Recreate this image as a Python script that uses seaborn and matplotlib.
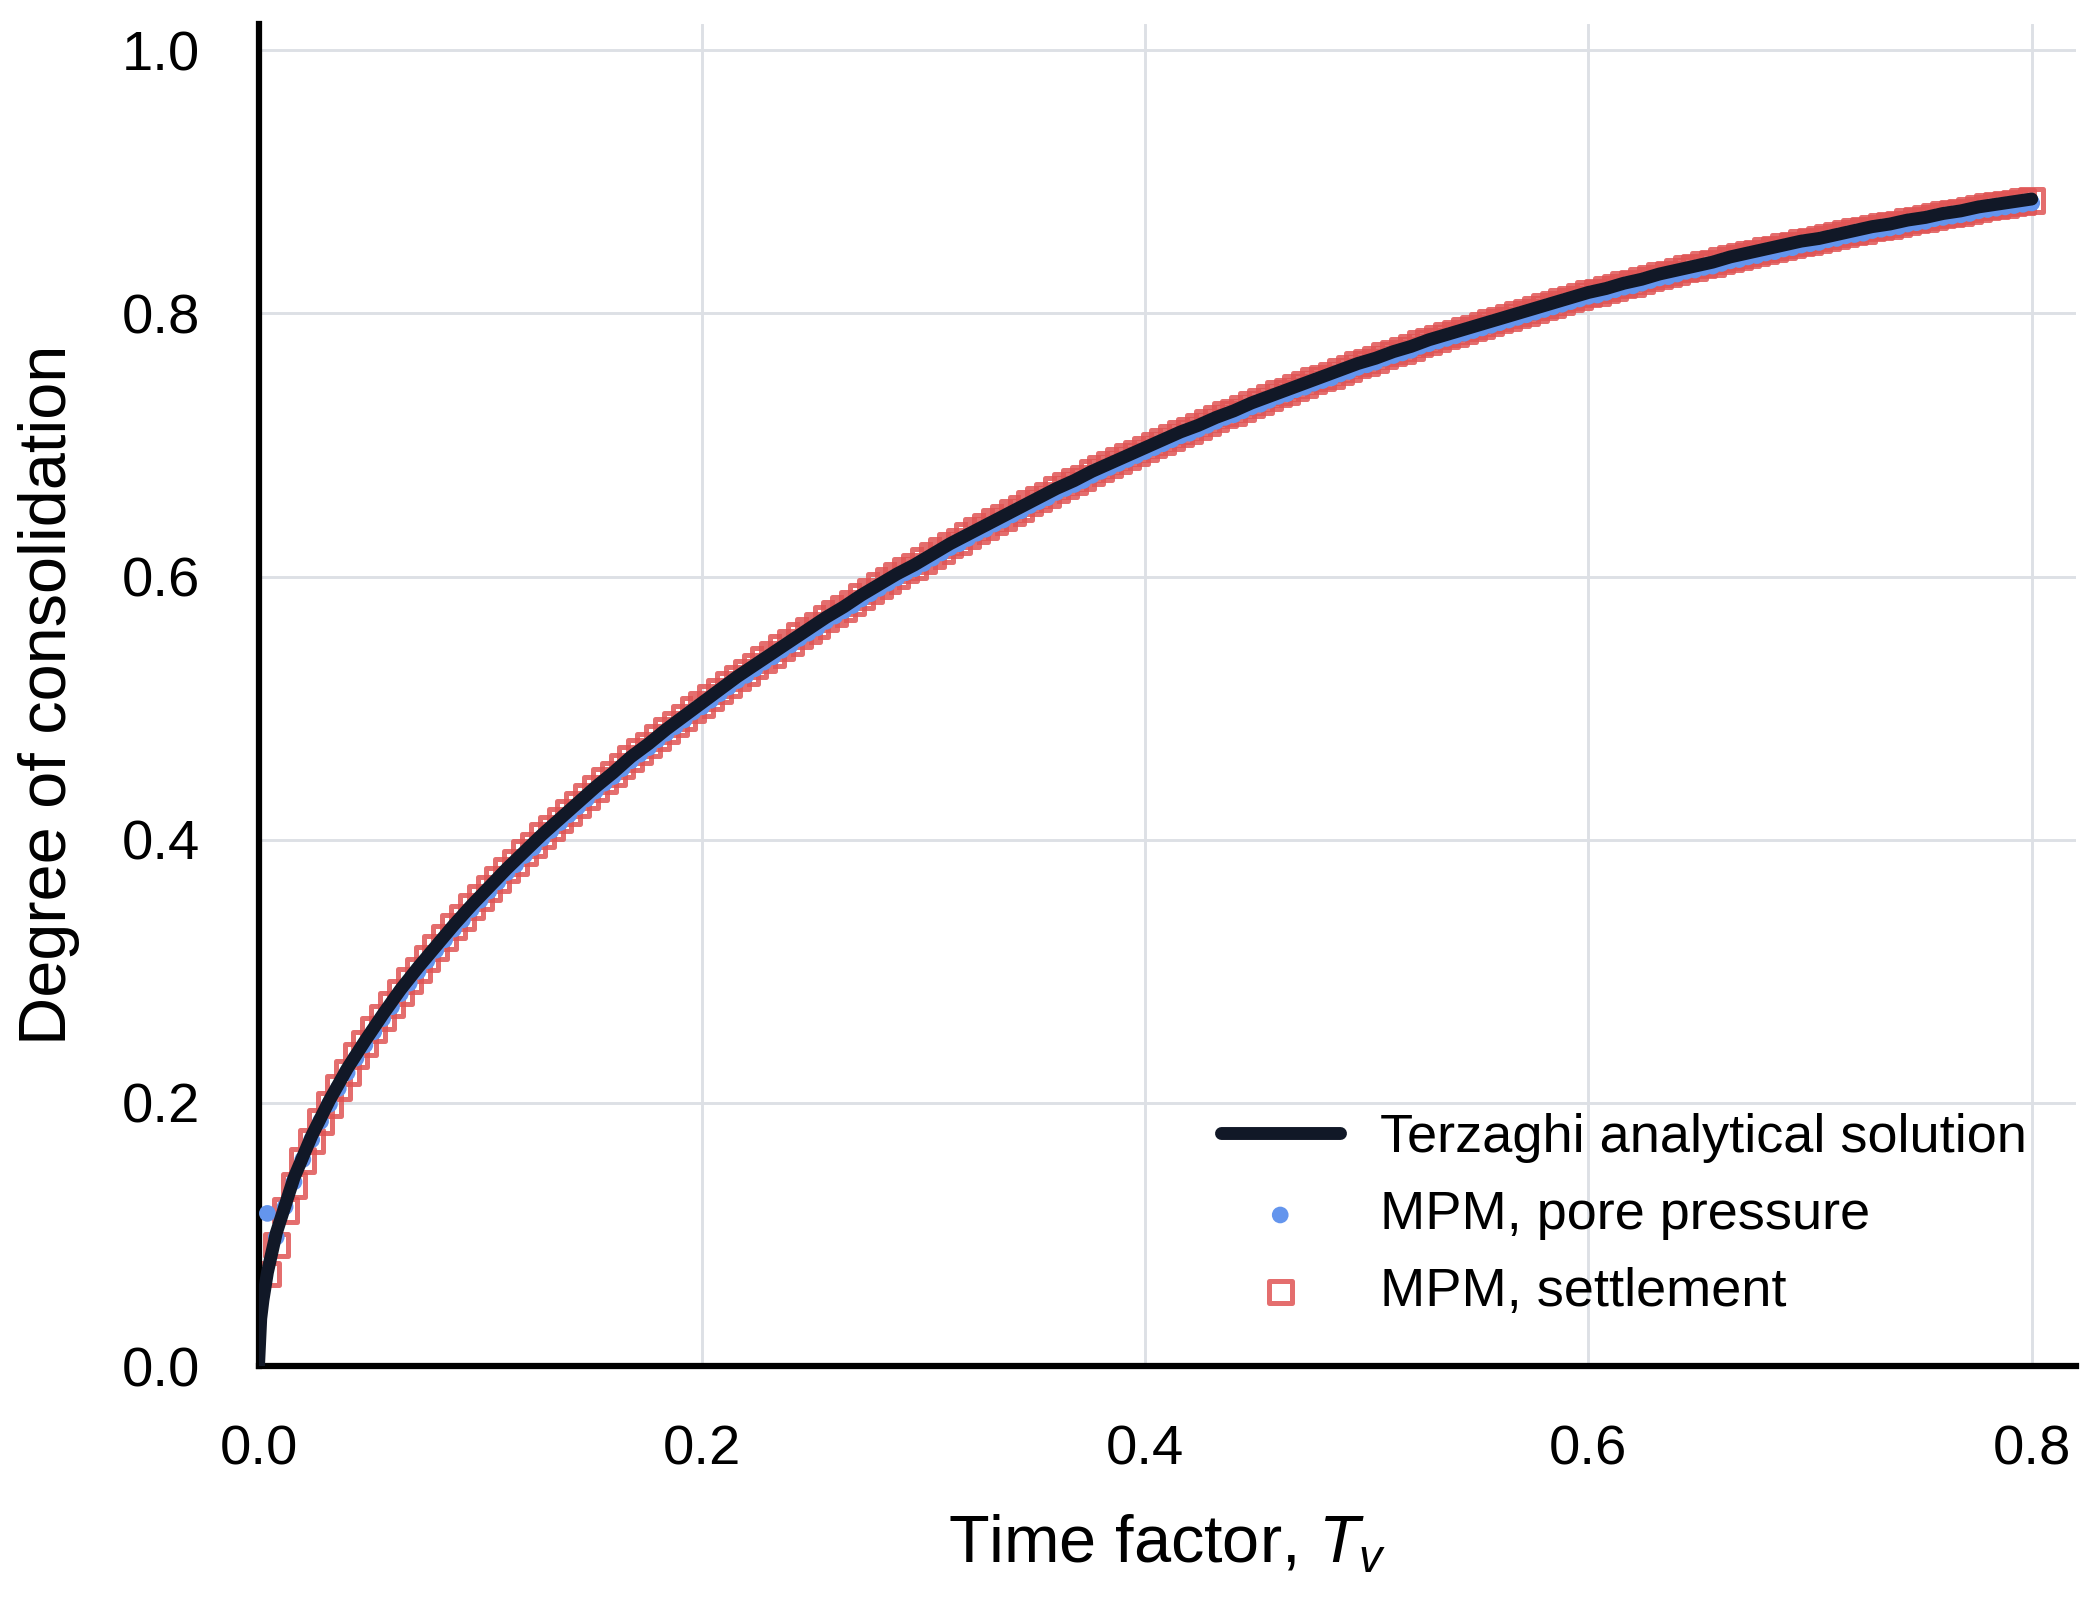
import matplotlib
matplotlib.use("Agg")
import matplotlib.pyplot as plt
import seaborn as sns
import pandas as pd

# time factor grid of the MPM output (even steps)
tv = [0.008, 0.016, 0.024, 0.032, 0.040, 0.048, 0.056, 0.064, 0.072, 0.080,
      0.088, 0.096, 0.104, 0.112, 0.120, 0.128, 0.136, 0.144, 0.152, 0.160,
      0.168, 0.176, 0.184, 0.192, 0.200, 0.208, 0.216, 0.224, 0.232, 0.240,
      0.248, 0.256, 0.264, 0.272, 0.280, 0.288, 0.296, 0.304, 0.312, 0.320,
      0.328, 0.336, 0.344, 0.352, 0.360, 0.368, 0.376, 0.384, 0.392, 0.400,
      0.408, 0.416, 0.424, 0.432, 0.440, 0.448, 0.456, 0.464, 0.472, 0.480,
      0.488, 0.496, 0.504, 0.512, 0.520, 0.528, 0.536, 0.544, 0.552, 0.560,
      0.568, 0.576, 0.584, 0.592, 0.600, 0.608, 0.616, 0.624, 0.632, 0.640,
      0.648, 0.656, 0.664, 0.672, 0.680, 0.688, 0.696, 0.704, 0.712, 0.720,
      0.728, 0.736, 0.744, 0.752, 0.760, 0.768, 0.776, 0.784, 0.792, 0.800]

# odd steps of the MPM output
tv_mid = [0.004, 0.012, 0.020, 0.028, 0.036, 0.044, 0.052, 0.060, 0.068, 0.076,
          0.084, 0.092, 0.100, 0.108, 0.116, 0.124, 0.132, 0.140, 0.148, 0.156,
          0.164, 0.172, 0.180, 0.188, 0.196, 0.204, 0.212, 0.220, 0.228, 0.236,
          0.244, 0.252, 0.260, 0.268, 0.276, 0.284, 0.292, 0.300, 0.308, 0.316,
          0.324, 0.332, 0.340, 0.348, 0.356, 0.364, 0.372, 0.380, 0.388, 0.396,
          0.404, 0.412, 0.420, 0.428, 0.436, 0.444, 0.452, 0.460, 0.468, 0.476,
          0.484, 0.492, 0.500, 0.508, 0.516, 0.524, 0.532, 0.540, 0.548, 0.556,
          0.564, 0.572, 0.580, 0.588, 0.596, 0.604, 0.612, 0.620, 0.628, 0.636,
          0.644, 0.652, 0.660, 0.668, 0.676, 0.684, 0.692, 0.700, 0.708, 0.716,
          0.724, 0.732, 0.740, 0.748, 0.756, 0.764, 0.772, 0.780, 0.788, 0.796]

# analytical curve
tv_start = [0.0, 0.001, 0.002, 0.004]
u_start = [0.0, 0.036, 0.050, 0.071]
u_terzaghi = [0.101, 0.143, 0.175, 0.202, 0.226, 0.247, 0.267, 0.286, 0.303, 0.319,
              0.335, 0.350, 0.364, 0.378, 0.391, 0.404, 0.416, 0.428, 0.440, 0.451,
              0.463, 0.473, 0.484, 0.494, 0.504, 0.514, 0.524, 0.533, 0.542, 0.551,
              0.560, 0.569, 0.577, 0.586, 0.594, 0.602, 0.609, 0.617, 0.625, 0.632,
              0.639, 0.646, 0.653, 0.660, 0.667, 0.673, 0.680, 0.686, 0.692, 0.698,
              0.704, 0.710, 0.715, 0.721, 0.726, 0.732, 0.737, 0.742, 0.747, 0.752,
              0.757, 0.762, 0.766, 0.771, 0.775, 0.780, 0.784, 0.788, 0.792, 0.796,
              0.800, 0.804, 0.808, 0.812, 0.816, 0.819, 0.823, 0.826, 0.830, 0.833,
              0.836, 0.839, 0.843, 0.846, 0.849, 0.852, 0.855, 0.857, 0.860, 0.863,
              0.866, 0.868, 0.871, 0.873, 0.876, 0.878, 0.881, 0.883, 0.885, 0.887]

# MPM, pore pressure
u_pore = [0.098, 0.140, 0.172, 0.199, 0.223, 0.244, 0.264, 0.283, 0.300, 0.316,
          0.332, 0.347, 0.361, 0.375, 0.388, 0.401, 0.413, 0.425, 0.437, 0.448,
          0.460, 0.470, 0.481, 0.491, 0.501, 0.511, 0.521, 0.530, 0.539, 0.548,
          0.557, 0.566, 0.574, 0.583, 0.591, 0.599, 0.606, 0.614, 0.622, 0.629,
          0.636, 0.643, 0.650, 0.657, 0.664, 0.670, 0.677, 0.683, 0.689, 0.695,
          0.701, 0.707, 0.712, 0.718, 0.723, 0.729, 0.734, 0.739, 0.744, 0.749,
          0.754, 0.759, 0.763, 0.768, 0.772, 0.777, 0.781, 0.785, 0.789, 0.793,
          0.797, 0.801, 0.805, 0.809, 0.813, 0.816, 0.820, 0.823, 0.827, 0.830,
          0.833, 0.836, 0.840, 0.843, 0.846, 0.849, 0.852, 0.854, 0.857, 0.860,
          0.863, 0.865, 0.868, 0.870, 0.873, 0.875, 0.878, 0.880, 0.882, 0.884]
u_pore_mid = [0.116, 0.121, 0.157, 0.186, 0.211, 0.234, 0.254, 0.273, 0.291, 0.308,
              0.324, 0.339, 0.354, 0.368, 0.381, 0.394, 0.407, 0.419, 0.431, 0.443,
              0.454, 0.465, 0.476, 0.486, 0.497, 0.506, 0.516, 0.525, 0.535, 0.544,
              0.553, 0.561, 0.570, 0.578, 0.587, 0.595, 0.603, 0.610, 0.618, 0.625,
              0.633, 0.640, 0.647, 0.654, 0.660, 0.667, 0.673, 0.680, 0.686, 0.692,
              0.698, 0.704, 0.709, 0.715, 0.721, 0.726, 0.731, 0.737, 0.742, 0.747,
              0.751, 0.756, 0.761, 0.766, 0.770, 0.775, 0.779, 0.783, 0.787, 0.791,
              0.795, 0.799, 0.803, 0.807, 0.811, 0.814, 0.818, 0.821, 0.825, 0.828,
              0.832, 0.835, 0.838, 0.841, 0.844, 0.847, 0.850, 0.853, 0.856, 0.859,
              0.861, 0.864, 0.866, 0.869, 0.872, 0.874, 0.876, 0.879, 0.881, 0.883]

# MPM, settlement
u_settle = [0.092, 0.137, 0.171, 0.199, 0.223, 0.245, 0.265, 0.284, 0.301, 0.318,
            0.334, 0.349, 0.363, 0.377, 0.390, 0.403, 0.415, 0.427, 0.439, 0.450,
            0.462, 0.472, 0.483, 0.493, 0.503, 0.513, 0.523, 0.532, 0.541, 0.550,
            0.559, 0.568, 0.576, 0.585, 0.593, 0.601, 0.608, 0.616, 0.624, 0.631,
            0.638, 0.645, 0.652, 0.659, 0.666, 0.672, 0.679, 0.685, 0.691, 0.697,
            0.703, 0.709, 0.714, 0.720, 0.725, 0.731, 0.736, 0.741, 0.746, 0.751,
            0.756, 0.761, 0.765, 0.770, 0.774, 0.779, 0.783, 0.787, 0.791, 0.795,
            0.799, 0.803, 0.807, 0.811, 0.815, 0.818, 0.822, 0.825, 0.829, 0.832,
            0.835, 0.838, 0.842, 0.845, 0.848, 0.851, 0.854, 0.856, 0.859, 0.862,
            0.865, 0.867, 0.870, 0.872, 0.875, 0.877, 0.880, 0.882, 0.884, 0.886]
u_settle_mid = [0.070, 0.118, 0.156, 0.186, 0.212, 0.236, 0.256, 0.275, 0.293, 0.310,
                0.326, 0.341, 0.356, 0.370, 0.383, 0.396, 0.409, 0.421, 0.433, 0.445,
                0.456, 0.467, 0.478, 0.488, 0.499, 0.508, 0.518, 0.527, 0.537, 0.546,
                0.555, 0.563, 0.572, 0.580, 0.589, 0.597, 0.605, 0.612, 0.620, 0.627,
                0.635, 0.642, 0.649, 0.656, 0.662, 0.669, 0.675, 0.682, 0.688, 0.694,
                0.700, 0.706, 0.711, 0.717, 0.723, 0.728, 0.733, 0.739, 0.744, 0.749,
                0.753, 0.758, 0.763, 0.768, 0.772, 0.777, 0.781, 0.785, 0.789, 0.793,
                0.797, 0.801, 0.805, 0.809, 0.813, 0.816, 0.820, 0.823, 0.827, 0.830,
                0.834, 0.837, 0.840, 0.843, 0.846, 0.849, 0.852, 0.855, 0.858, 0.861,
                0.863, 0.866, 0.868, 0.871, 0.874, 0.876, 0.878, 0.881, 0.883, 0.885]

x_ticks = [0.0, 0.2, 0.4, 0.6, 0.8]
y_ticks = [0.0, 0.2, 0.4, 0.6, 0.8, 1.0]

df_line = pd.DataFrame({"tv": tv_start + tv, "u": u_start + u_terzaghi})
df_pore = pd.DataFrame({"tv": tv_mid + tv, "u": u_pore_mid + u_pore})
df_settle = pd.DataFrame({"tv": tv_mid + tv, "u": u_settle_mid + u_settle})

sns.set_style("white")
plt.rcParams["font.family"] = ["Liberation Sans", "DejaVu Sans"]
plt.rcParams["mathtext.fontset"] = "custom"
plt.rcParams["mathtext.rm"] = "Liberation Sans"
plt.rcParams["mathtext.it"] = "Liberation Sans:italic"
plt.rcParams["text.color"] = "black"
plt.rcParams["axes.labelcolor"] = "black"

fig = plt.figure(figsize=(7, 5.34), dpi=300)
ax = fig.add_axes([0.1231, 0.1473, 0.8655, 0.8377])

sns.scatterplot(data=df_settle, x="tv", y="u", ax=ax, marker="s", s=30,
                facecolors="none", edgecolor="#e05555", linewidth=1.2,
                alpha=0.85, zorder=2, label="MPM, settlement")
sns.scatterplot(data=df_pore, x="tv", y="u", ax=ax, marker="o", s=16,
                color="#6495ed", edgecolor="none", zorder=3,
                label="MPM, pore pressure")
sns.lineplot(data=df_line, x="tv", y="u", ax=ax, color="#111827", lw=3.1,
             zorder=4, label="Terzaghi analytical solution")

ax.set_xlim(0, 0.82)
ax.set_ylim(0, 1.02)
ax.set_xticks(x_ticks)
ax.set_yticks(y_ticks)
ax.set_xticklabels([f"{v:.1f}" for v in x_ticks])
ax.set_yticklabels([f"{v:.1f}" for v in y_ticks])
ax.grid(True, color="#dde0e5", lw=0.7, zorder=0)
ax.set_axisbelow(True)
sns.despine(ax=ax)
for side in ["left", "bottom"]:
    ax.spines[side].set_linewidth(1.5)
    ax.spines[side].set_color("black")
ax.tick_params(axis="both", direction="out", length=7, width=1.5,
               labelsize=13.5, pad=7, colors="black")
ax.set_xlabel("Time factor, $T_v$", fontsize=16, labelpad=9)
ax.set_ylabel("Degree of consolidation", fontsize=16, labelpad=10)

h, l = ax.get_legend_handles_labels()
order = [l.index("Terzaghi analytical solution"), l.index("MPM, pore pressure"),
         l.index("MPM, settlement")]
ax.legend([h[i] for i in order], [l[i] for i in order], loc="lower right",
          bbox_to_anchor=(1.0, 0.0), frameon=False, fontsize=13,
          handlelength=2.2, handletextpad=0.75, labelspacing=0.5)

fig.savefig("out.png", dpi=300)
